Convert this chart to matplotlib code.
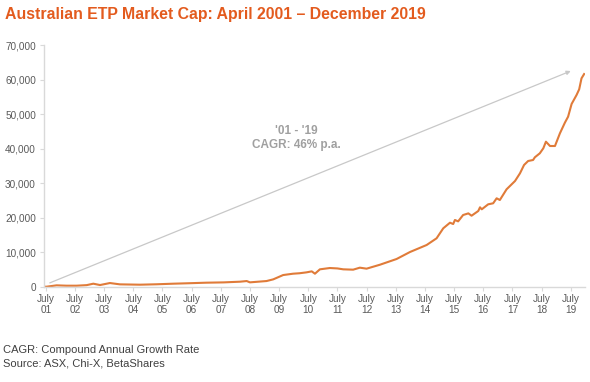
import matplotlib
matplotlib.use('Agg')
import matplotlib.pyplot as plt
from matplotlib.ticker import FuncFormatter

# market cap ($m), x in decimal years
years = [2001.45, 2001.53, 2001.87, 2002.21, 2002.56, 2002.9, 2003.13, 2003.36, 2003.7,
         2004.04, 2004.73, 2005.3, 2005.87, 2006.4, 2007.0, 2007.6, 2008.16, 2008.39,
         2008.5, 2009.07, 2009.3, 2009.64, 2009.98, 2010.2, 2010.44, 2010.62, 2010.73,
         2010.9, 2011.24, 2011.5, 2011.7, 2012.04, 2012.27, 2012.5, 2012.96, 2013.53,
         2013.99, 2014.56, 2014.9, 2015.13, 2015.36, 2015.47, 2015.53, 2015.64, 2015.81,
         2015.99, 2016.1, 2016.33, 2016.39, 2016.45, 2016.67, 2016.84, 2016.96, 2017.07,
         2017.3, 2017.59, 2017.76, 2017.9, 2018.04, 2018.21, 2018.27, 2018.44, 2018.56,
         2018.65, 2018.79, 2018.96, 2019.13, 2019.3, 2019.41, 2019.53, 2019.7, 2019.79,
         2019.87, 2019.96]
values = [0, 0, 390, 290, 290, 450, 870, 480, 1060,
          680, 580, 700, 870, 1000, 1160, 1250, 1450, 1640,
          1260, 1640, 2130, 3380, 3770, 3900, 4160, 4450, 3770,
          5040, 5420, 5300, 5040, 4940, 5520, 5230, 6380, 8040,
          10070, 12100, 14040, 16950, 18570, 18190, 19360, 18960, 20800,
          21280, 20600, 21970, 23040, 22460, 23910, 24200, 25650, 25160,
          28260, 30670, 32900, 35320, 36480, 36770, 37550, 38710, 40160,
          42080, 40830, 40830, 44520, 47600, 49340, 53020, 55630, 57280,
          60470, 61720]

tick_years = [2001.5 + i for i in range(19)]
tick_labels = ['July\n%02d' % (i + 1) for i in range(19)]

orange = '#E07B39'
grey_txt = '#595959'

fig = plt.figure(figsize=(5.9, 3.82), dpi=100)
ax = fig.add_axes([44.3/590, 0.2495, 541/590, 0.6314])

ax.plot(years, values, color=orange, linewidth=1.5)

# CAGR arrow
ax.annotate('', xy=(2019.59, 62900), xytext=(2001.55, 800),
            arrowprops=dict(arrowstyle='-|>', color='#c8c8c8', lw=0.9,
                            mutation_scale=6))
ax.text(2010.1, 45300, "'01 - '19", ha='center', va='center',
        fontsize=8.5, fontweight='bold', color='#a0a0a0', family='Liberation Sans')
ax.text(2010.1, 41100, 'CAGR: 46% p.a.', ha='center', va='center',
        fontsize=8.5, fontweight='bold', color='#a0a0a0', family='Liberation Sans')

ax.set_xlim(2001.45, 2020.0)
ax.set_ylim(0, 70000)
ax.set_yticks(range(0, 70001, 10000))
ax.yaxis.set_major_formatter(FuncFormatter(lambda v, p: '{:,.0f}'.format(v)))
ax.set_xticks(tick_years)
ax.set_xticklabels(tick_labels)

for s in ['top', 'right']:
    ax.spines[s].set_visible(False)
for s in ['left', 'bottom']:
    ax.spines[s].set_color('#d9d9d9')
    ax.spines[s].set_linewidth(1.0)
ax.tick_params(colors='#d9d9d9', length=3, width=0.8, labelsize=7.2)
for lab in ax.get_xticklabels() + ax.get_yticklabels():
    lab.set_color(grey_txt)
    lab.set_family('Liberation Sans')
ax.tick_params(axis='x', pad=2)
ax.tick_params(axis='y', pad=3)

fig.text(5/590, 1 - 15/382, 'Australian ETP Market Cap: April 2001 \u2013 December 2019',
         fontsize=11.4, fontweight='bold', color='#E35B1E', va='center', ha='left',
         family='Liberation Sans')
fig.text(3/590, 1 - 350/382, 'CAGR: Compound Annual Growth Rate', fontsize=8,
         color='#404040', va='center', family='Liberation Sans')
fig.text(3/590, 1 - 364/382, 'Source: ASX, Chi-X, BetaShares', fontsize=8,
         color='#404040', va='center', family='Liberation Sans')

fig.savefig('out.png', dpi=100)
